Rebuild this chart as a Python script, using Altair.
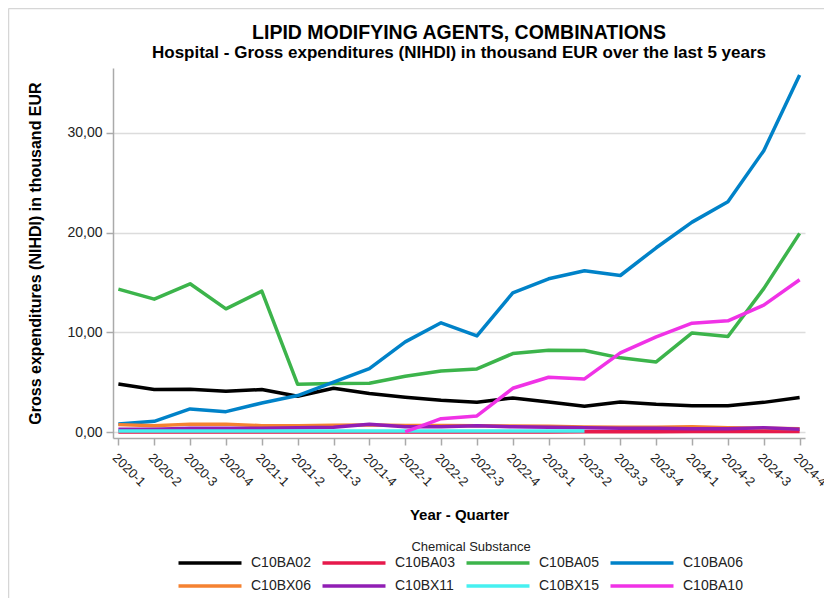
import altair as alt
import pandas as pd

quarters = ["2020-1", "2020-2", "2020-3", "2020-4", "2021-1", "2021-2", "2021-3", "2021-4",
            "2022-1", "2022-2", "2022-3", "2022-4", "2023-1", "2023-2", "2023-3", "2023-4",
            "2024-1", "2024-2", "2024-3", "2024-4"]

series = ["C10BA02", "C10BA03", "C10BA05", "C10BA06", "C10BX06", "C10BX11", "C10BX15", "C10BA10"]
colors = ["#000000", "#e6194b", "#3cb44b", "#0082c8", "#f58231", "#911eb4", "#46f0f0", "#f032e6"]

c10ba02 = [4.85, 4.28, 4.31, 4.11, 4.28, 3.61, 4.41, 3.88, 3.51, 3.21, 3.01, 3.44, 3.04, 2.61, 3.04, 2.81, 2.67, 2.67, 3.00, 3.48]
c10ba03 = [0.02, 0.02, 0.02, 0.02, 0.02, 0.02, 0.02, 0.02, 0.02, 0.02, 0.02, 0.02, 0.02, 0.05, 0.06, 0.06, 0.07, 0.07, 0.08, 0.08]
c10ba05 = [14.34, 13.34, 14.88, 12.37, 14.14, 4.81, 4.88, 4.92, 5.62, 6.15, 6.35, 7.89, 8.22, 8.19, 7.46, 7.05, 9.96, 9.60, 14.40, 19.93]
c10ba06 = [0.83, 1.10, 2.34, 2.07, 2.94, 3.68, 5.02, 6.39, 9.06, 10.97, 9.66, 13.97, 15.38, 16.18, 15.71, 18.49, 21.06, 23.10, 28.22, 35.80]
c10bx06 = [0.77, 0.65, 0.82, 0.82, 0.66, 0.66, 0.70, 0.72, 0.68, 0.68, 0.66, 0.62, 0.60, 0.52, 0.50, 0.50, 0.55, 0.45, 0.40, 0.35]
c10bx11 = [0.30, 0.30, 0.40, 0.40, 0.40, 0.45, 0.50, 0.80, 0.55, 0.55, 0.65, 0.55, 0.50, 0.45, 0.40, 0.40, 0.35, 0.35, 0.45, 0.30]
c10bx15 = [0.12, 0.12, 0.12, 0.12, 0.12, 0.12, 0.12, 0.12, 0.12, 0.12, 0.12, 0.12, 0.12, 0.12, None, None, None, None, None, None]
c10ba10 = [None, None, None, None, None, None, None, None, 0.05, 1.37, 1.64, 4.41, 5.52, 5.35, 7.96, 9.56, 10.93, 11.17, 12.74, 15.28]

values = [c10ba02, c10ba03, c10ba05, c10ba06, c10bx06, c10bx11, c10bx15, c10ba10]

rows = []
for name, vals in zip(series, values):
    for q, v in zip(quarters, vals):
        if v is not None:
            rows.append({"Quarter": q, "Substance": name, "Value": v})
df = pd.DataFrame(rows)

FONT = "Liberation Sans"

lines = alt.Chart(df).mark_line(strokeWidth=3.5, strokeJoin="round").encode(
    x=alt.X("Quarter:O", sort=quarters,
            scale=alt.Scale(type="point", padding=0.15),
            axis=alt.Axis(title="Year - Quarter", labelAngle=45, labelAlign="left",
                          labelBaseline="top", labelFontSize=13, labelPadding=6,
                          tickSize=7, titleFontSize=15, titleFontWeight="bold",
                          titlePadding=19, grid=False)),
    y=alt.Y("Value:Q", scale=alt.Scale(domain=[-0.57, 36.5], nice=False, zero=False),
            axis=alt.Axis(title="Gross expenditures (NIHDI) in thousand EUR",
                          values=[0, 10, 20, 30],
                          labelExpr="replace(format(datum.value, '.2f'), '.', ',')",
                          labelFontSize=14, tickSize=7, labelPadding=4,
                          titleFontSize=16, titleFontWeight="bold", titlePadding=23,
                          grid=True, gridColor="#dcdcdc", gridWidth=1.5)),
    color=alt.Color("Substance:N", sort=series,
                    scale=alt.Scale(domain=series, range=colors),
                    legend=alt.Legend(title="Chemical Substance", orient="none",
                                      legendX=87, legendY=473, columns=4,
                                      direction="horizontal",
                                      symbolType="M-4,0H4", symbolSize=248,
                                      symbolStrokeWidth=3.5,
                                      labelFontSize=14, labelOffset=31,
                                      columnPadding=4, rowPadding=6,
                                      titleFontSize=13, titleFontWeight="normal",
                                      titleAnchor="middle", titleOrient="top",
                                      titlePadding=-1)),
)

frame_top = alt.Chart(alt.Data(values=[{}])).mark_rule(color="#d6d6d6", strokeWidth=1.5).encode(
    x=alt.value(-104.5), x2=alt.value(720), y=alt.value(-59.5))
frame_left = alt.Chart(alt.Data(values=[{}])).mark_rule(color="#d6d6d6", strokeWidth=1.5).encode(
    x=alt.value(-104.5), y=alt.value(-59.5), y2=alt.value(540))

chart = alt.layer(frame_top, frame_left, lines).properties(
    width=692, height=370,
    title=alt.TitleParams(
        text="LIPID MODIFYING AGENTS, COMBINATIONS",
        subtitle="Hospital - Gross expenditures (NIHDI) in thousand EUR over the last 5 years",
        anchor="middle", frame="group", font=FONT, subtitleFont=FONT,
        fontSize=19.5, subtitleFontSize=17,
        fontWeight="bold", subtitleFontWeight="bold", color="#000", subtitleColor="#000",
        offset=0, dy=54, subtitlePadding=1),
    autosize=alt.AutoSizeParams(type="none"),
    padding={"left": 105, "top": 60, "right": 19, "bottom": 160},
).configure(font=FONT).configure_axis(
    domainColor="#aaaaaa", domainWidth=1.5, tickColor="#aaaaaa", tickWidth=1.5,
    labelColor="#222", titleColor="#000", labelFont=FONT, titleFont=FONT,
).configure_legend(labelFont=FONT, titleFont=FONT, labelColor="#222", titleColor="#222"
).configure_view(stroke=None)

chart.save("out.html", embed_options={"renderer": "svg", "actions": False})
